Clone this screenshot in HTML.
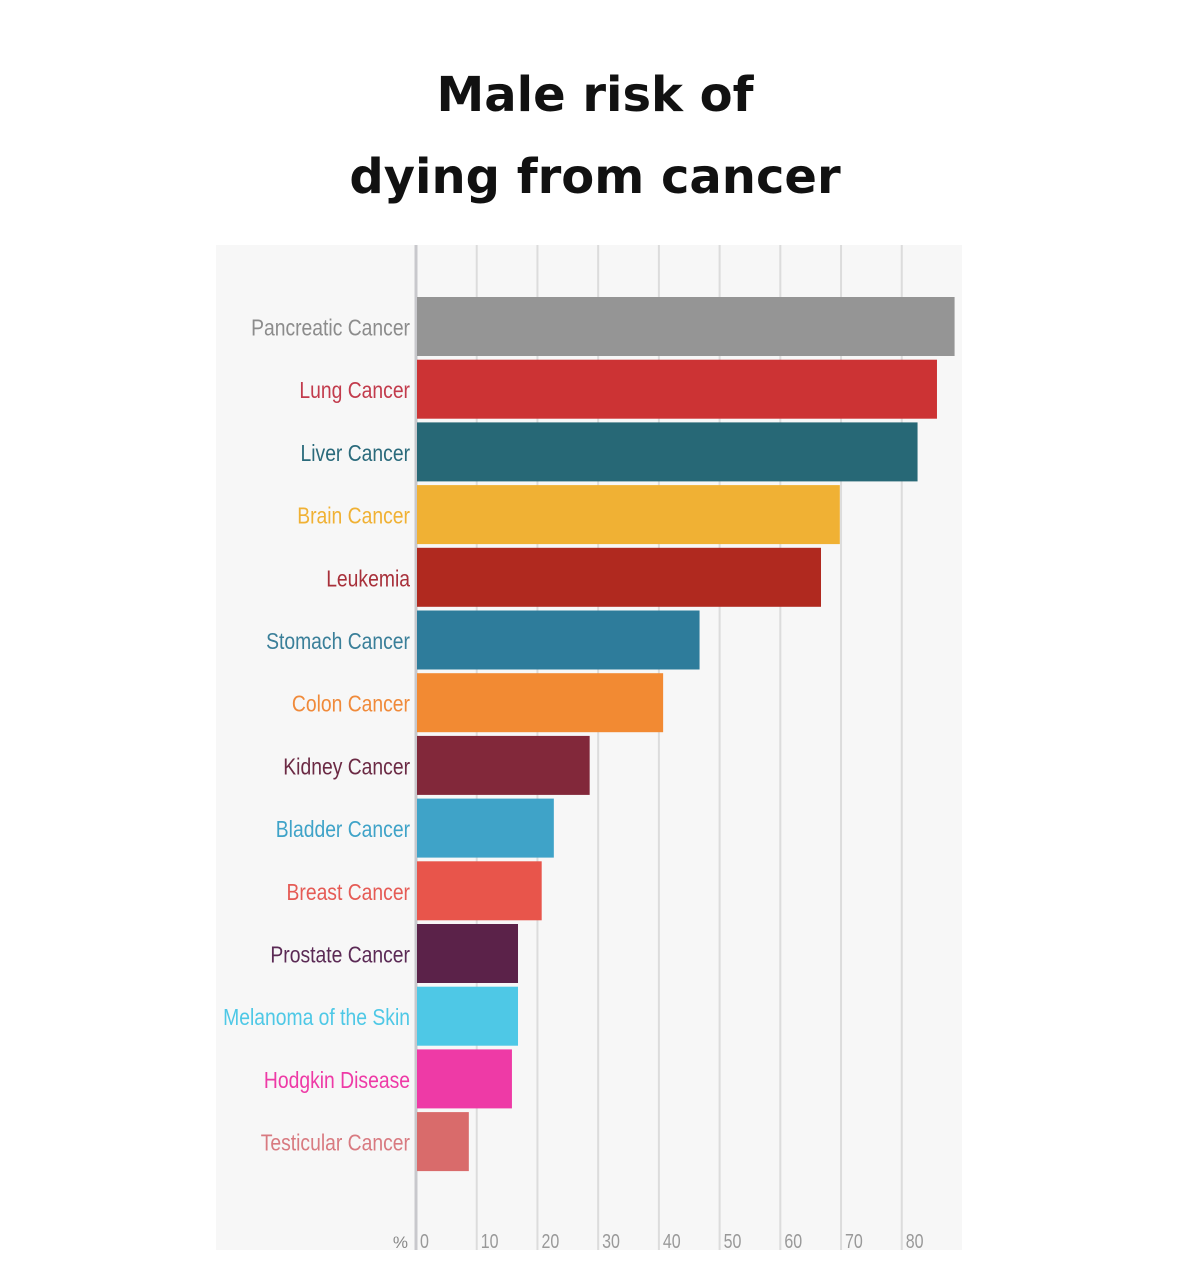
<!DOCTYPE html>
<html><head><meta charset="utf-8">
<style>
body{margin:0;width:1200px;height:1286px;background:#fff;overflow:hidden;font-family:"Liberation Sans",sans-serif;}
#title{position:absolute;left:0;width:1190px;top:54px;text-align:center;font-size:48px;font-weight:bold;line-height:82px;color:#111;font-family:"DejaVu Sans",sans-serif;}
svg{position:absolute;left:0;top:0;}
</style></head><body>
<div id="title">Male risk of<br>dying from cancer</div>
<svg id="chart" width="1200" height="1286"></svg>
<script>
const categories=["Pancreatic Cancer","Lung Cancer","Liver Cancer","Brain Cancer","Leukemia","Stomach Cancer","Colon Cancer","Kidney Cancer","Bladder Cancer","Breast Cancer","Prostate Cancer","Melanoma of the Skin","Hodgkin Disease","Testicular Cancer"];
const values=[88.7,85.8,82.6,69.8,66.7,46.7,40.7,28.6,22.7,20.7,16.8,16.8,15.8,8.7];
const colors=["#959595","#cc3334","#276876","#f0b134","#b0291f","#2e7c9b","#f28a33","#82283a","#3fa3c8","#e8554b","#5b2249","#4ec8e6","#ee3aa6","#d96b6b"];
const labelColors=["#8c8c8c","#c23b4c","#2a6a7b","#f0b134","#a8303a","#3a7f99","#f08a3a","#6b2a44","#3fa3c8","#e55b55","#5b2a55","#4ec8e6","#ee3aa6","#d87a80"];
const ticks=[0,10,20,30,40,50,60,70,80];
const NS="http://www.w3.org/2000/svg";
const svg=document.getElementById('chart');
const x0=416,pxPer=6.072,yTop=297,pitch=62.7,barH=59;
const xs=v=>x0+v*pxPer;
const ys=i=>yTop+i*pitch;
function mk(t,a){const e=document.createElementNS(NS,t);for(const k in a)e.setAttribute(k,a[k]);svg.appendChild(e);return e;}
function squeeze(t,f){const w=t.getComputedTextLength();t.setAttribute('textLength',(w*f).toFixed(1));t.setAttribute('lengthAdjust','spacingAndGlyphs');}
const cp=mk('clipPath',{id:'plotclip'});
const cr=document.createElementNS(NS,'rect');
cr.setAttribute('x',216);cr.setAttribute('y',245);cr.setAttribute('width',746);cr.setAttribute('height',1005);
cp.appendChild(cr);
const bg=mk('rect',{x:216,y:245,width:746,height:1005,fill:'#f7f7f7'});


ticks.forEach(t=>{
  const g=mk('line',{x1:xs(t),x2:xs(t),y1:245,y2:1250,stroke:t===0?'#c8c8cc':'#dcdcdc','stroke-width':t===0?3:2});
  
  
  const l=mk('text',{x:xs(t)+4,y:1248,'font-size':20,fill:'#999'});
  l.textContent=t;
  
  
  squeeze(l,0.8);
});
const pc=mk('text',{x:408,y:1248,'font-size':17,fill:'#888','text-anchor':'end'});
pc.textContent='%';


categories.forEach((c,i)=>{
  const r=mk('rect',{x:x0+1,y:ys(i),width:xs(values[i])-x0-1,height:barH,fill:colors[i]});
  
  
  const t=mk('text',{x:410,y:ys(i)+barH/2+9,'font-size':23,fill:labelColors[i],'text-anchor':'end','clip-path':'url(#plotclip)'});
  t.textContent=c;
  
  
  squeeze(t,0.84);
});
</script>
</body></html>
